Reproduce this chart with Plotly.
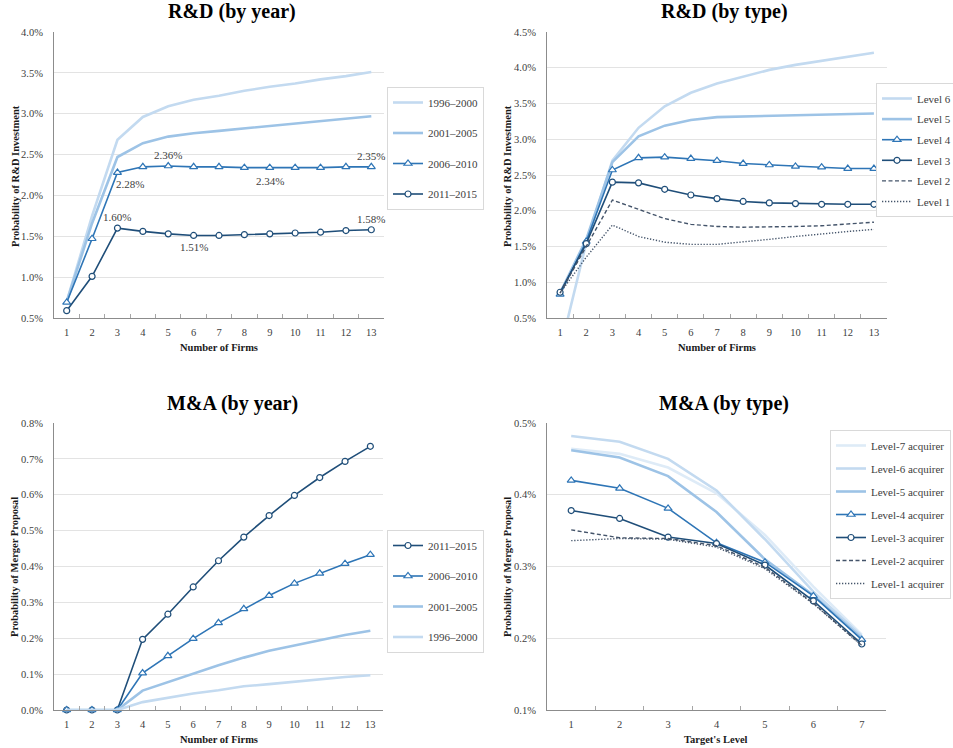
import plotly.graph_objects as go

# ---------------- data ----------------
firms = [str(i) for i in range(1, 14)]
target_levels = [str(i) for i in range(1, 8)]

# R&D (by year), % probability
rd_1996_2000 = [0.70, 1.75, 2.68, 2.96, 3.09, 3.17, 3.22, 3.28, 3.33, 3.37, 3.42, 3.46, 3.51]
rd_2001_2005 = [0.70, 1.66, 2.47, 2.64, 2.72, 2.76, 2.79, 2.82, 2.85, 2.88, 2.91, 2.94, 2.97]
rd_2006_2010 = [0.69, 1.47, 2.28, 2.35, 2.36, 2.35, 2.35, 2.34, 2.34, 2.34, 2.34, 2.35, 2.35]
rd_2011_2015 = [0.59, 1.01, 1.60, 1.56, 1.53, 1.51, 1.51, 1.52, 1.53, 1.54, 1.55, 1.57, 1.58]

# R&D (by type)
rd_level6 = [0.05, 1.55, 2.70, 3.16, 3.46, 3.65, 3.78, 3.88, 3.97, 4.04, 4.10, 4.16, 4.21]
rd_level5 = [0.85, 1.60, 2.68, 3.04, 3.19, 3.27, 3.31, 3.32, 3.33, 3.34, 3.35, 3.36, 3.36]
rd_level4 = [0.83, 1.57, 2.57, 2.74, 2.75, 2.73, 2.70, 2.66, 2.64, 2.62, 2.61, 2.59, 2.59]
rd_level3 = [0.86, 1.54, 2.40, 2.39, 2.30, 2.22, 2.17, 2.13, 2.11, 2.10, 2.09, 2.09, 2.09]
rd_level2 = [0.85, 1.50, 2.15, 2.02, 1.89, 1.81, 1.78, 1.77, 1.77, 1.78, 1.79, 1.82, 1.84]
rd_level1 = [0.85, 1.35, 1.80, 1.64, 1.56, 1.53, 1.53, 1.56, 1.60, 1.64, 1.68, 1.71, 1.74]

# M&A (by year)
ma_2011_2015 = [0.0, 0.0, 0.0, 0.197, 0.267, 0.343, 0.416, 0.482, 0.542, 0.598, 0.648, 0.693, 0.735]
ma_2006_2010 = [0.0, 0.0, 0.0, 0.103, 0.151, 0.199, 0.243, 0.282, 0.319, 0.353, 0.381, 0.408, 0.433]
ma_2001_2005 = [0.0, 0.0, 0.0, 0.054, 0.078, 0.102, 0.125, 0.146, 0.165, 0.180, 0.195, 0.209, 0.221]
ma_1996_2000 = [0.0, 0.0, 0.0, 0.022, 0.034, 0.046, 0.055, 0.066, 0.072, 0.079, 0.086, 0.092, 0.097]

# M&A (by type)
acq7 = [0.464, 0.457, 0.438, 0.402, 0.344, 0.272, 0.205]
acq6 = [0.482, 0.474, 0.450, 0.406, 0.338, 0.265, 0.203]
acq5 = [0.462, 0.452, 0.426, 0.376, 0.310, 0.260, 0.200]
acq4 = [0.420, 0.409, 0.381, 0.333, 0.306, 0.259, 0.198]
acq3 = [0.378, 0.367, 0.341, 0.332, 0.302, 0.252, 0.192]
acq2 = [0.351, 0.340, 0.339, 0.329, 0.299, 0.249, 0.190]
acq1 = [0.336, 0.339, 0.338, 0.327, 0.297, 0.248, 0.190]

# data labels in panel 1: (point index, xshift, yshift)
labels_2006 = [(2, 13, -11), (4, 0, 11), (8, 0, -13), (12, 0, 11)]
labels_2011 = [(2, 0, 11), (5, 0, -12), (12, 0, 11)]

# ---------------- style ----------------
W, H = 953, 748
SERIF = "Liberation Serif, 'Times New Roman', Times, serif"
C7 = "#DEEBF7"
C6 = "#C3DAF0"
C5 = "#9DC3E6"
C4 = "#2E75B6"
C3 = "#1F4E79"
C2 = "#44546A"
TXT = "#404040"
DASH = "4px,2.5px"
DOT = "1.3px,1.7px"


def px_x(a, b):
    return [a / W, b / W]


def px_y(top, bottom):
    return [1 - bottom / H, 1 - top / H]


fig = go.Figure()


def add(x, y, name, color, xa, ya, legend, kind="light", dash="solid", width=None, clip=True):
    if kind == "light":
        fig.add_trace(go.Scatter(x=x, y=y, name=name, mode="lines",
                                 line=dict(color=color, width=width or 2.6, dash=dash),
                                 xaxis=xa, yaxis=ya, legend=legend, legendgroup=legend + name,
                                 cliponaxis=clip))
    elif kind == "plain":
        fig.add_trace(go.Scatter(x=x, y=y, name=name, mode="lines",
                                 line=dict(color=color, width=width or 1.4, dash=dash),
                                 xaxis=xa, yaxis=ya, legend=legend, legendgroup=legend + name,
                                 cliponaxis=clip))
    else:
        sym = "triangle-up" if kind == "tri" else "circle"
        fig.add_trace(go.Scatter(x=x, y=y, name=name, mode="lines+markers",
                                 line=dict(color=color, width=width or 1.6),
                                 marker=dict(symbol=sym, size=6 if kind == "circ" else 7, color="white",
                                             line=dict(color=color, width=1.2)),
                                 xaxis=xa, yaxis=ya, legend=legend, legendgroup=legend + name,
                                 cliponaxis=clip))


# Panel 1
add(firms, rd_1996_2000, "1996–2000", C6, "x", "y", "legend")
add(firms, rd_2001_2005, "2001–2005", C5, "x", "y", "legend")
add(firms, rd_2006_2010, "2006–2010", C4, "x", "y", "legend", kind="tri")
add(firms, rd_2011_2015, "2011–2015", C3, "x", "y", "legend", kind="circ")

# Panel 2
add(firms, rd_level6, "Level 6", C6, "x2", "y2", "legend2")
add(firms, rd_level5, "Level 5", C5, "x2", "y2", "legend2")
add(firms, rd_level4, "Level 4", C4, "x2", "y2", "legend2", kind="tri")
add(firms, rd_level3, "Level 3", C3, "x2", "y2", "legend2", kind="circ")
add(firms, rd_level2, "Level 2", C2, "x2", "y2", "legend2", kind="plain", dash=DASH)
add(firms, rd_level1, "Level 1", C2, "x2", "y2", "legend2", kind="plain", dash=DOT)

# Panel 3
add(firms, ma_2011_2015, "2011–2015", C3, "x3", "y3", "legend3", kind="circ", clip=False)
add(firms, ma_2006_2010, "2006–2010", C4, "x3", "y3", "legend3", kind="tri", clip=False)
add(firms, ma_2001_2005, "2001–2005", C5, "x3", "y3", "legend3")
add(firms, ma_1996_2000, "1996–2000", C6, "x3", "y3", "legend3")

# Panel 4
add(target_levels, acq7, "Level-7 acquirer", C7, "x4", "y4", "legend4")
add(target_levels, acq6, "Level-6 acquirer", C6, "x4", "y4", "legend4")
add(target_levels, acq5, "Level-5 acquirer", C5, "x4", "y4", "legend4")
add(target_levels, acq4, "Level-4 acquirer", C4, "x4", "y4", "legend4", kind="tri")
add(target_levels, acq3, "Level-3 acquirer", C3, "x4", "y4", "legend4", kind="circ")
add(target_levels, acq2, "Level-2 acquirer", C2, "x4", "y4", "legend4", kind="plain", dash=DASH)
add(target_levels, acq1, "Level-1 acquirer", C2, "x4", "y4", "legend4", kind="plain", dash=DOT)

# ---------------- axes ----------------
tickfont = dict(family=SERIF, size=10.5, color=TXT)


def xaxis(domain, anchor, n):
    return dict(domain=domain, anchor=anchor, type="category", tickson="boundaries",
                range=[-0.5, n - 0.5], autorange=False,
                ticks="inside", ticklen=4, tickcolor="#A6A6A6", tickwidth=1,
                showline=True, linecolor="#8C8C8C", linewidth=1, showgrid=False,
                tickfont=tickfont, fixedrange=True, ticklabelstandoff=4)


def yaxis(domain, anchor, rng, dtick):
    return dict(domain=domain, anchor=anchor, range=rng, autorange=False, dtick=dtick, tick0=0,
                tickformat=".1f", ticksuffix="%", showline=True, linecolor="#8C8C8C",
                linewidth=1, showgrid=True, gridcolor="#E3E3E3", gridwidth=1,
                zeroline=False, ticks="", tickfont=tickfont, ticklabelstandoff=8)


top_y = px_y(32, 318)
bot_y = px_y(423, 710)
layout = dict(
    width=W, height=H,
    margin=dict(l=0, r=0, t=0, b=0, autoexpand=False),
    paper_bgcolor="white", plot_bgcolor="white",
    font=dict(family=SERIF, color=TXT),
    xaxis=xaxis(px_x(54, 384), "y", len(firms)),
    yaxis=yaxis(top_y, "x", [0.5, 4.0], 0.5),
    xaxis2=xaxis(px_x(547, 887), "y2", len(firms)),
    yaxis2=yaxis(top_y, "x2", [0.5, 4.5], 0.5),
    xaxis3=xaxis(px_x(54, 383), "y3", len(firms)),
    yaxis3=yaxis(bot_y, "x3", [0.0, 0.8], 0.1),
    xaxis4=xaxis(px_x(547, 886), "y4", len(target_levels)),
    yaxis4=yaxis(bot_y, "x4", [0.1, 0.5], 0.1),
)


def legend(x, y, gap):
    return dict(x=x / W, y=1 - y / H, xanchor="left", yanchor="top",
                bgcolor="white", bordercolor="#D9D9D9", borderwidth=1,
                font=dict(family=SERIF, size=11, color=TXT),
                tracegroupgap=gap, itemwidth=30, traceorder="grouped")


layout["legend"] = legend(387, 87, 11.5)
layout["legend2"] = legend(876, 83, 1.6)
layout["legend3"] = legend(387, 530, 11.5)
layout["legend4"] = legend(830, 430, 4)
layout["showlegend"] = True

fig.update_layout(**layout)

# ---------------- titles ----------------
ann = []
for text, cx, cy in [("R&D (by year)", 232, 12), ("R&D (by type)", 724, 12),
                     ("M&A (by year)", 232, 403), ("M&A (by type)", 724, 403)]:
    ann.append(dict(text=text, x=cx / W, y=1 - cy / H, xref="paper", yref="paper",
                    xanchor="center", yanchor="middle", showarrow=False,
                    font=dict(family=SERIF, size=20, color="black", weight="bold")))

for text, cx, cy in [("Number of Firms", 219, 347), ("Number of Firms", 717, 347),
                     ("Number of Firms", 219, 739), ("Target's Level", 716, 739)]:
    ann.append(dict(text=text, x=cx / W, y=1 - cy / H, xref="paper", yref="paper",
                    xanchor="center", yanchor="middle", showarrow=False,
                    font=dict(family=SERIF, size=10.5, color="#1a1a1a", weight="bold")))

for text, cx, cy in [("Probability of R&D Investment", 15, 176),
                     ("Probability of R&D Investment", 507, 176),
                     ("Probability of Merger Proposal", 14, 567),
                     ("Probability of Merger Proposal", 507, 567)]:
    ann.append(dict(text=text, x=cx / W, y=1 - cy / H, xref="paper", yref="paper",
                    xanchor="center", yanchor="middle", showarrow=False, textangle=-90,
                    font=dict(family=SERIF, size=10.5, color="#1a1a1a", weight="bold")))

# data labels (panel 1); x given as category index
for series, specs in [(rd_2006_2010, labels_2006), (rd_2011_2015, labels_2011)]:
    for idx, xs, ys in specs:
        ann.append(dict(text=f"{series[idx]:.2f}%", x=idx, y=series[idx],
                        xref="x", yref="y", showarrow=False, xshift=xs, yshift=ys,
                        font=dict(family=SERIF, size=11, color=TXT)))

fig.update_layout(annotations=ann)

fig.write_html("out.html")
